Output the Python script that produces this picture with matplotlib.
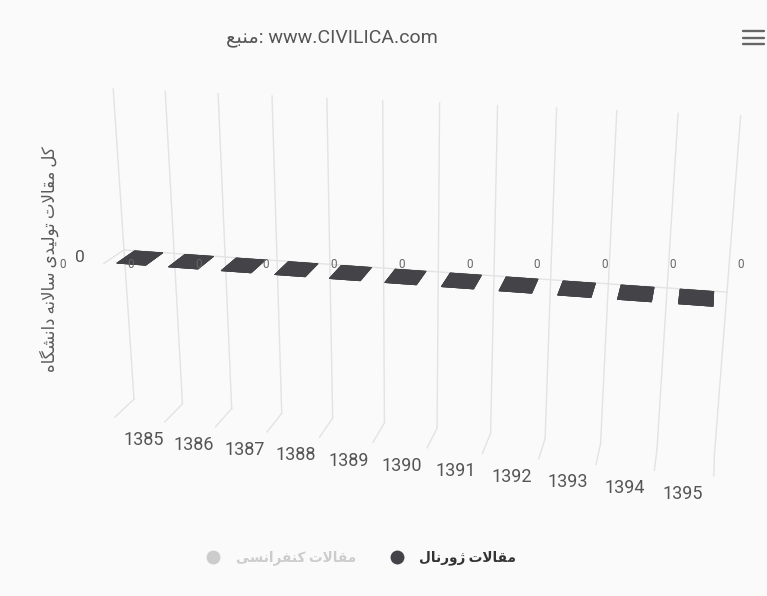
import numpy as np
import matplotlib
matplotlib.use('Agg')
import matplotlib.pyplot as plt
from matplotlib.lines import Line2D
import matplotlib.transforms as mtransforms
from mpl_toolkits.mplot3d import proj3d

# ---------------- data ----------------
categories = ['1385', '1386', '1387', '1388', '1389', '1390',
              '1391', '1392', '1393', '1394', '1395']
journal_articles = [0, 0, 0, 0, 0, 0, 0, 0, 0, 0, 0]
conference_articles = [0, 0, 0, 0, 0, 0, 0, 0, 0, 0, 0]
series_names = ['مقالات ژورنال', 'مقالات کنفرانسی']
y_axis_title = 'کل مقالات تولیدی سالانه دانشگاه'
y_ticks = [0]
source_word = 'منبع'
source_url = 'www.CIVILICA.com'

# ---------------- Persian shaping (presentation forms, visual order) ----------------
FORMS = {
    '\u0627': ('\uFE8D', '\uFE8E', None, None),
    '\u0628': ('\uFE8F', '\uFE90', '\uFE91', '\uFE92'),
    '\u062A': ('\uFE95', '\uFE96', '\uFE97', '\uFE98'),
    '\u062F': ('\uFEA9', '\uFEAA', None, None),
    '\u0631': ('\uFEAD', '\uFEAE', None, None),
    '\u0633': ('\uFEB1', '\uFEB2', '\uFEB3', '\uFEB4'),
    '\u0634': ('\uFEB5', '\uFEB6', '\uFEB7', '\uFEB8'),
    '\u0639': ('\uFEC9', '\uFECA', '\uFECB', '\uFECC'),
    '\u0641': ('\uFED1', '\uFED2', '\uFED3', '\uFED4'),
    '\u0642': ('\uFED5', '\uFED6', '\uFED7', '\uFED8'),
    '\u0644': ('\uFEDD', '\uFEDE', '\uFEDF', '\uFEE0'),
    '\u0645': ('\uFEE1', '\uFEE2', '\uFEE3', '\uFEE4'),
    '\u0646': ('\uFEE5', '\uFEE6', '\uFEE7', '\uFEE8'),
    '\u0647': ('\uFEE9', '\uFEEA', '\uFEEB', '\uFEEC'),
    '\u0648': ('\uFEED', '\uFEEE', None, None),
    '\u0698': ('\uFB8A', '\uFB8B', None, None),
    '\u06A9': ('\uFB8E', '\uFB8F', '\uFB90', '\uFB91'),
    '\u06AF': ('\uFB92', '\uFB93', '\uFB94', '\uFB95'),
    '\u06CC': ('\uFBFC', '\uFBFD', '\uFBFE', '\uFBFF'),
    'LA': ('\uFEFB', '\uFEFC', None, None),
}


def shape_rtl(text):
    items, i = [], 0
    while i < len(text):
        if text[i] == '\u0644' and i + 1 < len(text) and text[i + 1] == '\u0627':
            items.append('LA'); i += 2
        else:
            items.append(text[i]); i += 1

    def joins_fwd(c):
        return c in FORMS and FORMS[c][2] is not None

    out = []
    for k, c in enumerate(items):
        if c not in FORMS:
            out.append(c); continue
        prev_j = k > 0 and joins_fwd(items[k - 1])
        next_j = joins_fwd(c) and k + 1 < len(items) and items[k + 1] in FORMS
        iso, fin, ini, med = FORMS[c]
        if prev_j and next_j:
            out.append(med)
        elif prev_j:
            out.append(fin)
        elif next_j:
            out.append(ini)
        else:
            out.append(iso)
    return ''.join(reversed(out))


FONT = ['Roboto', 'DejaVu Sans']
plt.rcParams['font.family'] = FONT

W_PX, H_PX = 767, 596
BG = '#fafafa'
GRID = '#e3e3e3'
BAR = '#434348'
n = len(categories)

fig = plt.figure(figsize=(W_PX / 100, H_PX / 100), dpi=100, facecolor=BG)
ax = fig.add_axes([0, 0, 1, 1], projection='3d', computed_zorder=False)
ax.set_proj_type('persp', focal_length=0.36)
ax.view_init(elev=18, azim=-77, roll=0)
ax.set_box_aspect((1.0, 0.079, 0.55))
ax.set_xlim(0, n)
ax.set_ylim(0, 1)
ax.set_zlim(-1, 1)
ax.set_axis_off()
ax.patch.set_alpha(0)

# grid: back wall verticals, floor lines, zero lines
for k in range(n + 1):
    ax.plot([k, k], [1, 1], [-1, 1], color=GRID, lw=1, zorder=1)
    ax.plot([k, k], [1, 0], [-1, -1], color=GRID, lw=1, zorder=1)
for v in y_ticks:
    ax.plot([0, n], [1, 1], [v, v], color=GRID, lw=1, zorder=1)
    ax.plot([0, 0], [0, 1], [v, v], color=GRID, lw=1, zorder=1)

# bars (all zero height -> flat tops)
xs = np.arange(n) + 0.22
ax.bar3d(xs, np.full(n, 0.08), np.zeros(n), 0.56, 0.9, np.array(journal_articles, float),
         color=BAR, shade=False, edgecolor=BAR, linewidth=0.6, zorder=3)

# ---------- calibrate axes placement ----------
fig.canvas.draw()


def project(x, y, z):
    M = ax.get_proj()
    px, py, _ = proj3d.proj_transform(np.atleast_1d(np.asarray(x, float)),
                                      np.atleast_1d(np.asarray(y, float)),
                                      np.atleast_1d(np.asarray(z, float)), M)
    return ax.transData.transform(np.column_stack([px, py]))


bb = ax.get_position()
L0 = bb.width * W_PX
c0 = np.array([(bb.x0 + bb.width / 2) * W_PX, (bb.y0 + bb.height / 2) * H_PX])
g = (project([0, n], [1, 1], [0, 0]) - c0) / L0
tgt = np.array([[124.0, H_PX - 250.0], [727.0, H_PX - 292.0]])
L1 = (tgt[1, 0] - tgt[0, 0]) / (g[1, 0] - g[0, 0])
c1 = (tgt - L1 * g).mean(axis=0)
ax.set_position([(c1[0] - L1 / 2) / W_PX, (c1[1] - L1 / 2) / H_PX, L1 / W_PX, L1 / H_PX])
fig.canvas.draw()

pix = mtransforms.IdentityTransform()

# category labels: anchor depth/height chosen so the label row follows the reference layout
lab_ends = np.array([[144.0, H_PX - 440.0], [683.0, H_PX - 494.0]])
want = lab_ends[1] - lab_ends[0]
best, best_err = (1.0, -1.0), np.inf
for yl in np.linspace(0.0, 3.0, 61):
    for zl in np.linspace(-1.5, 0.5, 81):
        p = project([0.5, n - 0.5], [yl, yl], [zl, zl])
        d = p[1] - p[0]
        err = np.hypot(*(d - want))
        if err < best_err:
            best, best_err = (yl, zl), err
lab = project(np.arange(n) + 0.5, np.full(n, best[0]), np.full(n, best[1]))
shift = lab_ends.mean(axis=0) - lab[[0, -1]].mean(axis=0)
for (px, py), c in zip(lab + shift, categories):
    fig.text(px, py, c, transform=pix, ha='center', va='center',
             fontsize=13, color='#555555')

# y-axis tick label
for v in y_ticks:
    p = project([0], [1], [v])[0]
    fig.text(p[0] - 44, p[1] - 8, str(v), transform=pix, ha='center', va='center',
             fontsize=12.5, color='#555555')

# data labels (flat 2D scale)
ax_dl = fig.add_axes([29 / W_PX, (H_PX - 264 - 100) / H_PX, 745 / W_PX, 200 / H_PX])
ax_dl.set_xlim(-0.5, n - 0.5)
ax_dl.set_ylim(-1, 1)
ax_dl.set_axis_off()
for i, v in enumerate(journal_articles):
    ax_dl.text(i, v, str(v), ha='center', va='center', fontsize=8.5, color='#666666')

# titles
fig.text(332 / W_PX, 1 - 38 / H_PX, shape_rtl(source_word) + ': ' + source_url,
         ha='center', va='center', fontsize=14, color='#555555')
fig.text(49 / W_PX, 1 - 259 / H_PX, shape_rtl(y_axis_title), rotation=90,
         ha='center', va='center', fontsize=12, color='#5a5a5a')

# legend (rtl order: second series on the left)
handles = [Line2D([], [], marker='o', ls='none', markersize=10, markerfacecolor='#cccccc',
                  markeredgecolor='none', label=shape_rtl(series_names[1])),
           Line2D([], [], marker='o', ls='none', markersize=10, markerfacecolor=BAR,
                  markeredgecolor='none', label=shape_rtl(series_names[0]))]
leg = fig.legend(handles=handles, loc='center', bbox_to_anchor=(361.5 / W_PX, 1 - 558 / H_PX),
                 ncol=2, frameon=False, handlelength=1.0, handletextpad=1.12,
                 columnspacing=2.57, prop={'size': 9.8, 'weight': 'bold', 'family': FONT})
leg.get_texts()[0].set_color('#cccccc')
leg.get_texts()[1].set_color('#333333')

# export menu icon
for yy in (31, 37.5, 44):
    fig.add_artist(Line2D([743 / W_PX, 764 / W_PX], [1 - yy / H_PX, 1 - yy / H_PX],
                          color='#666666', lw=1.7, solid_capstyle='round'))

fig.savefig('out.png', dpi=100, facecolor=BG)
